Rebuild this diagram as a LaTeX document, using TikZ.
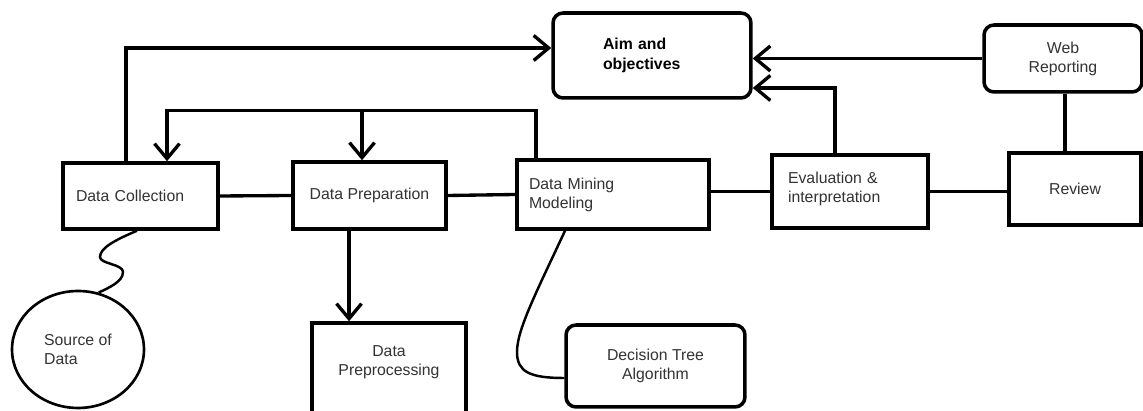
\documentclass[tikz,border=0pt]{standalone}
\usepackage{fontspec}
\setmainfont{Liberation Sans}
\usetikzlibrary{arrows.meta,shapes.geometric}

\begin{document}
\begin{tikzpicture}[x=0.02cm, y=-0.02cm,
		box/.style={draw, line width=2pt, text=black!80, font=\fontsize{9}{10.8}\selectfont},
		rbox/.style={box, rounded corners=0.2cm},
		arr/.style={line width=1.9pt, -{Straight Barb[length=0.3cm,width=0.5cm]}},
		link/.style={line width=1.9pt},
		wire/.style={line width=1.4pt}]
		\useasboundingbox[fill=white] (0,0) rectangle (1143,411);

		% top row
		\node[rbox, minimum width=3.96cm, minimum height=1.7cm, text width=1.96cm, inner xsep=1cm, align=left, text=black, font=\fontsize{9}{11.4}\selectfont\bfseries] (aim) at (652,55.5) {Aim and\\objectives};
		\node[rbox, minimum width=3.16cm, minimum height=1.34cm, align=center] (web) at (1063,58.5) {Web\\Reporting};

		% main row
		\node[box, minimum width=3.1cm, minimum height=1.32cm, text width=2.58cm, inner xsep=0.26cm, align=left] (dc) at (140.5,196) {Data Collection};
		\node[box, minimum width=3.06cm, minimum height=1.34cm] (dp) at (369.5,195.5) {Data Preparation};
		\node[box, minimum width=3.84cm, minimum height=1.38cm, text width=3.36cm, inner xsep=0.24cm, align=left] (dm) at (613,194.5) {Data Mining\\Modeling};
		\node[box, minimum width=3.12cm, minimum height=1.46cm, text width=2.48cm, inner xsep=0.32cm, align=left, text depth=0.55cm] (ev) at (850,191.5) {Evaluation \&\\interpretation};
		\node[box, minimum width=2.64cm, minimum height=1.44cm] (rv) at (1075,189) {Review};

		% bottom row
		\node[box, ellipse, line width=1.5pt, minimum width=2.64cm, minimum height=2.34cm, align=left] (src) at (78,349.5) {Source of\\Data};
		\node[box, minimum width=3.08cm, minimum height=2.04cm, align=center, text depth=0.55cm] (pre) at (389,374) {Data\\Preprocessing};
		\node[rbox, minimum width=3.58cm, minimum height=1.64cm, align=center] (dt) at (655.5,366) {Decision Tree\\Algorithm};

		% arrows into the aim box
		\draw[arr] ([xshift=-0.29cm]dc.north) |- ([yshift=0.15cm]aim.west);
		\draw[arr] ([xshift=-0.3cm]ev.north) |- ([yshift=-0.65cm]aim.east);
		\draw[arr] (web.west) -- (web.west -| aim.east);
		\draw[link] ([xshift=-0.2cm]rv.north) -- ([xshift=-0.2cm]rv.north |- web.south);

		% feedback loop
		\draw[arr] ([xshift=-1.54cm]dm.north) -- ++(0,-48) coordinate (looptop) -| ([xshift=0.53cm]dc.north);
		\draw[arr] ([xshift=-0.15cm]dp.north |- looptop) -- ([xshift=-0.15cm]dp.north);

		% chain
		\draw[link] (dc.east) -- (dp.west);
		\draw[link] (dp.east) -- (dm.west);
		\draw[link] (ev.west -| dm.east) -- (ev.west);
		\draw[link] (ev.east) -- (ev.east -| rv.west);
		\draw[arr] ([xshift=-0.41cm]dp.south) -- ([xshift=-0.41cm]dp.south |- pre.north);

		% curved links
		\draw[wire] ([xshift=-0.07cm]dc.south) .. controls (115,240) and (100,248) .. (100,257)
			.. controls (100,264) and (123,264) .. (123,272)
			.. controls (123,282) and (108,288) .. (src.70);
		\draw[wire] ([xshift=-0.96cm]dm.south) .. controls (535,295) and (517,330) .. (517,352)
			.. controls (517,372) and (530,378) .. ([yshift=-0.24cm]dt.west);
	\end{tikzpicture}
\end{document}
